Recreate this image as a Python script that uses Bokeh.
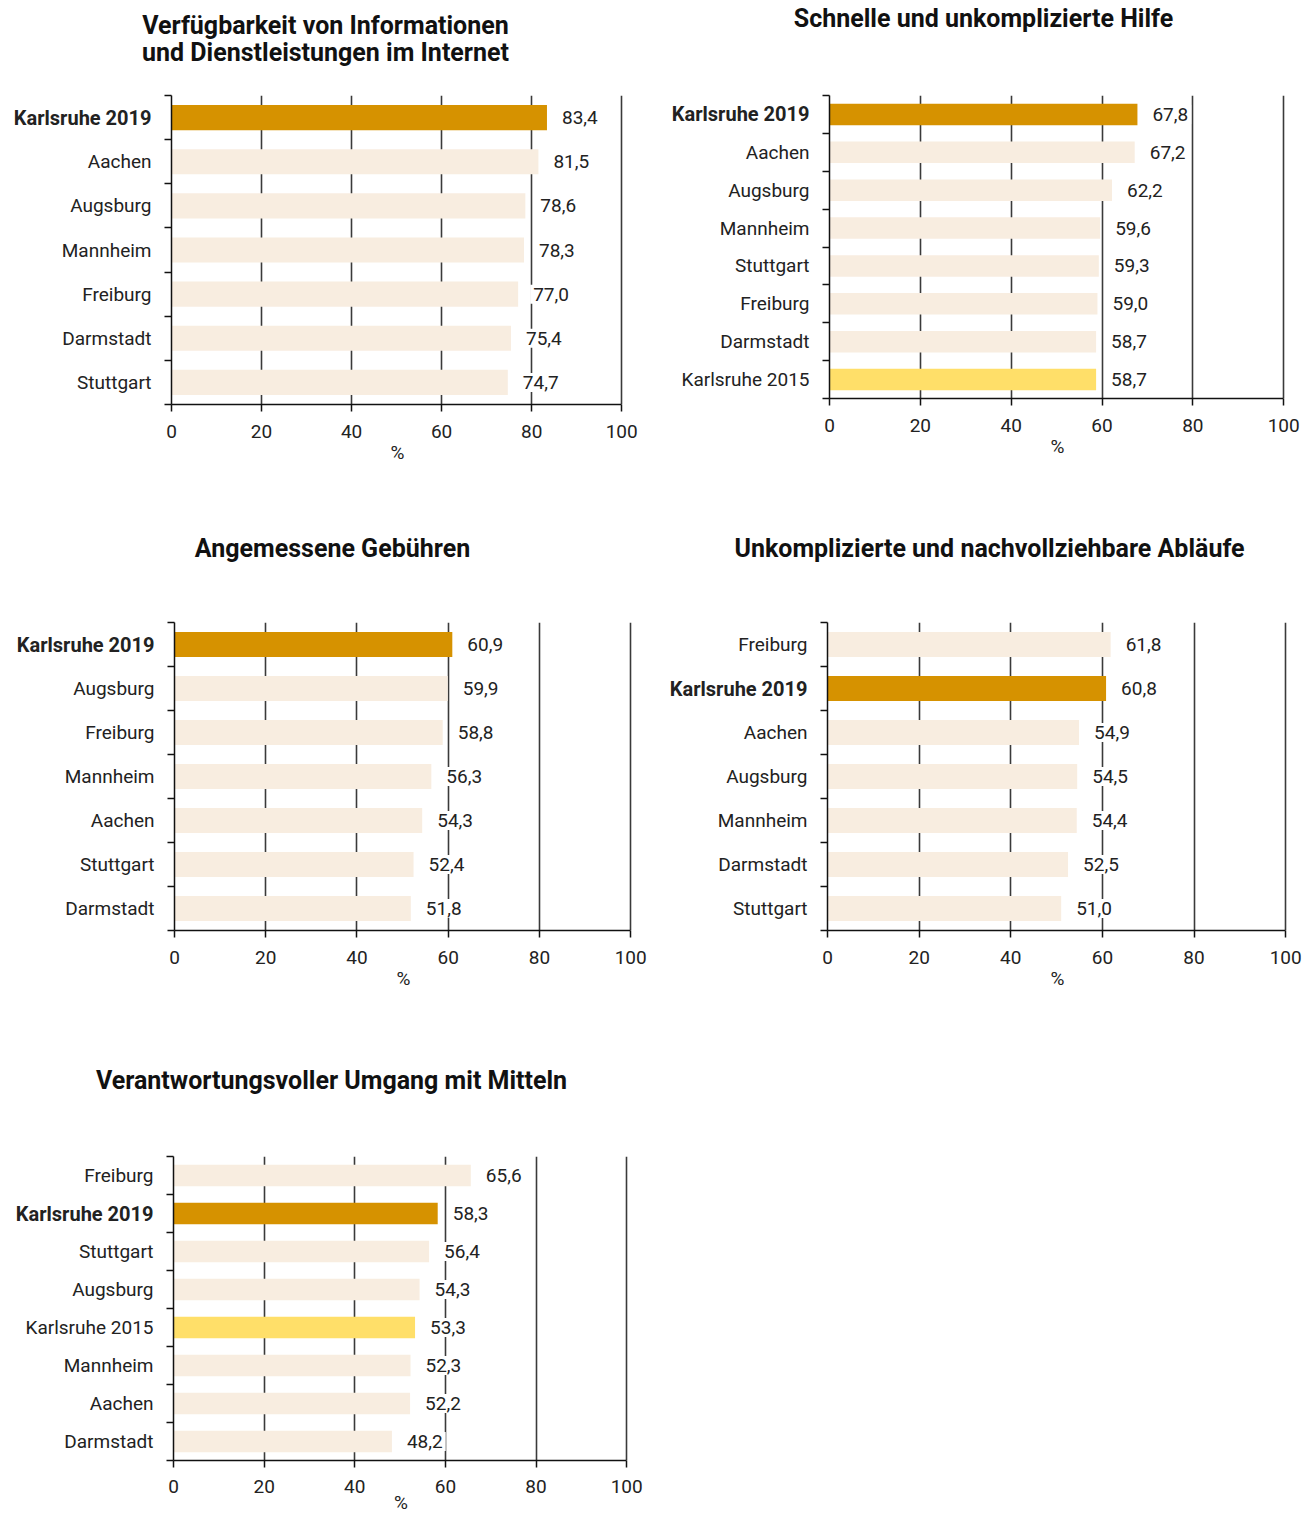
from bokeh.plotting import figure
from bokeh.models import ColumnDataSource, Range1d, FixedTicker
from bokeh.layouts import column, row
from bokeh.core.properties import value
from bokeh.embed import file_html
from bokeh.resources import INLINE

# ---------------- data ----------------
title1 = ["Verfügbarkeit von Informationen", "und Dienstleistungen im Internet"]
cats1 = ["Karlsruhe 2019", "Aachen", "Augsburg", "Mannheim", "Freiburg", "Darmstadt", "Stuttgart"]
vals1 = [83.4, 81.5, 78.6, 78.3, 77.0, 75.4, 74.7]

title2 = ["Schnelle und unkomplizierte Hilfe"]
cats2 = ["Karlsruhe 2019", "Aachen", "Augsburg", "Mannheim", "Stuttgart", "Freiburg", "Darmstadt", "Karlsruhe 2015"]
vals2 = [67.8, 67.2, 62.2, 59.6, 59.3, 59.0, 58.7, 58.7]

title3 = ["Angemessene Gebühren"]
cats3 = ["Karlsruhe 2019", "Augsburg", "Freiburg", "Mannheim", "Aachen", "Stuttgart", "Darmstadt"]
vals3 = [60.9, 59.9, 58.8, 56.3, 54.3, 52.4, 51.8]

title4 = ["Unkomplizierte und nachvollziehbare Abläufe"]
cats4 = ["Freiburg", "Karlsruhe 2019", "Aachen", "Augsburg", "Mannheim", "Darmstadt", "Stuttgart"]
vals4 = [61.8, 60.8, 54.9, 54.5, 54.4, 52.5, 51.0]

title5 = ["Verantwortungsvoller Umgang mit Mitteln"]
cats5 = ["Freiburg", "Karlsruhe 2019", "Stuttgart", "Augsburg", "Karlsruhe 2015", "Mannheim", "Aachen", "Darmstadt"]
vals5 = [65.6, 58.3, 56.4, 54.3, 53.3, 52.3, 52.2, 48.2]

x_ticks = [0, 20, 40, 60, 80, 100]
x_tick_labels = ["0", "20", "40", "60", "80", "100"]
axis_title = "%"

# ---------------- style ----------------
FONT = "Roboto"
FS = "19px"
C_K19 = "#D69200"
C_K15 = "#FFDF69"
C_OTHER = "#F8EDE0"
TXT = "#222222"
GRID = "#3a3a3a"
AX = "#111111"

PW = 652  # panel width
GAP = 10  # space between label figure and bar frame (holds separator ticks)

# panel layout: panel height, title-figure height, title line centres, frame left/right/top/bottom (panel px)
geo = [
    dict(H=520, th=70, ty=[25, 52], tx=325, fl=171, fr=621, ft=95, fb=404, mls=13, als=0),
    dict(H=520, th=40, ty=[18], tx=983 - 652, fl=177, fr=631, ft=95, fb=398, mls=13, als=0),
    dict(H=530, th=50, ty=[28], tx=332, fl=174, fr=630, ft=102, fb=410, mls=13, als=0),
    dict(H=530, th=50, ty=[28], tx=989 - 652, fl=175, fr=633, ft=102, fb=410, mls=13, als=0),
    dict(H=468, th=55, ty=[30], tx=331, fl=173, fr=626, ft=106, fb=410, mls=12, als=-5),
]


def colour(c):
    if c == "Karlsruhe 2019":
        return C_K19
    if c == "Karlsruhe 2015":
        return C_K15
    return C_OTHER


def bare(width, height, xr, yr, **kw):
    f = figure(width=width, height=height, output_backend="svg", toolbar_location=None,
               x_range=xr, y_range=yr, x_axis_type=None, y_axis_type=None,
               min_border=0, min_border_left=0, min_border_right=0, **kw)
    f.outline_line_color = None
    f.grid.grid_line_color = None
    return f


def panel(titles, cats, vals, g):
    n = len(cats)
    H = g["H"]
    th = g["th"]
    bh = H - th
    top = g["ft"] - th
    bottom = H - g["fb"]

    # ---- title figure
    tf = bare(PW, th, Range1d(0, PW), Range1d(th, 0))
    tf.text(x=[g["tx"]] * len(titles), y=g["ty"], text=titles,
            text_align="center", text_baseline="middle",
            text_font=value(FONT), text_font_size="25px", text_font_style="bold",
            text_color="#111111")

    src = ColumnDataSource(dict(
        y=[i + 0.5 for i in range(n)],
        v=vals,
        c=[colour(c) for c in cats],
        name=cats,
        style=["bold" if c == "Karlsruhe 2019" else "normal" for c in cats],
        size=["20px" if c == "Karlsruhe 2019" else FS for c in cats],
        lab=[("%.1f" % v).replace(".", ",") for v in vals],
    ))

    yr = Range1d(n, 0)

    # ---- category label figure
    lw = g["fl"] - GAP
    lf = bare(lw, bh, Range1d(0, 1), yr, min_border_top=top, min_border_bottom=bottom)
    lf.text(x=1, y="y", text="name", source=src, x_offset=-(20 - GAP),
            text_align="right", text_baseline="middle",
            text_font=value(FONT), text_font_size="size", text_font_style="style",
            text_color=TXT)

    # ---- bar figure
    bw = PW - lw
    p = figure(width=bw, height=bh, output_backend="svg", toolbar_location=None,
               x_range=Range1d(0, 100.4), y_range=yr,
               min_border_left=GAP, min_border_right=PW - g["fr"] - 2,
               min_border_top=top, min_border_bottom=bottom)
    p.outline_line_color = None

    p.hbar(y="y", right="v", left=0, height=0.57, fill_color="c", line_color=None, source=src)
    p.text(x="v", y="y", text="lab", source=src, x_offset=12,
           text_align="left", text_baseline="middle",
           text_font=value(FONT), text_font_size=FS, text_color=TXT,
           background_fill_color="white", padding=3)

    xa = p.xaxis[0]
    xa.ticker = FixedTicker(ticks=x_ticks)
    xa.bounds = (0, 100)
    xa.major_label_overrides = {t: l for t, l in zip(x_ticks, x_tick_labels)}
    xa.major_tick_out = 7
    xa.major_tick_in = 0
    xa.minor_tick_out = 0
    xa.axis_line_color = AX
    xa.axis_line_width = 1.5
    xa.major_tick_line_color = AX
    xa.major_tick_line_width = 1.5
    xa.major_label_text_font = FONT
    xa.major_label_text_font_size = FS
    xa.major_label_text_color = TXT
    xa.major_label_standoff = g["mls"]
    xa.axis_label = axis_title
    xa.axis_label_text_font = FONT
    xa.axis_label_text_font_size = FS
    xa.axis_label_text_font_style = "normal"
    xa.axis_label_text_color = TXT
    xa.axis_label_standoff = g["als"]

    ya = p.yaxis[0]
    ya.ticker = FixedTicker(ticks=[], minor_ticks=list(range(n + 1)))
    ya.major_tick_out = 0
    ya.major_tick_in = 0
    ya.minor_tick_out = 7
    ya.minor_tick_in = 0
    ya.minor_tick_line_color = AX
    ya.minor_tick_line_width = 1.5
    ya.axis_line_color = AX
    ya.axis_line_width = 1.5
    ya.major_label_standoff = 0
    ya.major_label_text_font_size = "0px"

    p.ygrid.grid_line_color = None
    p.xgrid.ticker = FixedTicker(ticks=x_ticks)
    p.xgrid.grid_line_color = GRID
    p.xgrid.grid_line_width = 1.6

    return column(tf, row(lf, p))


c1 = panel(title1, cats1, vals1, geo[0])
c2 = panel(title2, cats2, vals2, geo[1])
c3 = panel(title3, cats3, vals3, geo[2])
c4 = panel(title4, cats4, vals4, geo[3])
c5 = panel(title5, cats5, vals5, geo[4])

layout = column(row(c1, c2), row(c3, c4), row(c5))
open("out.html", "w").write(file_html(layout, INLINE))
